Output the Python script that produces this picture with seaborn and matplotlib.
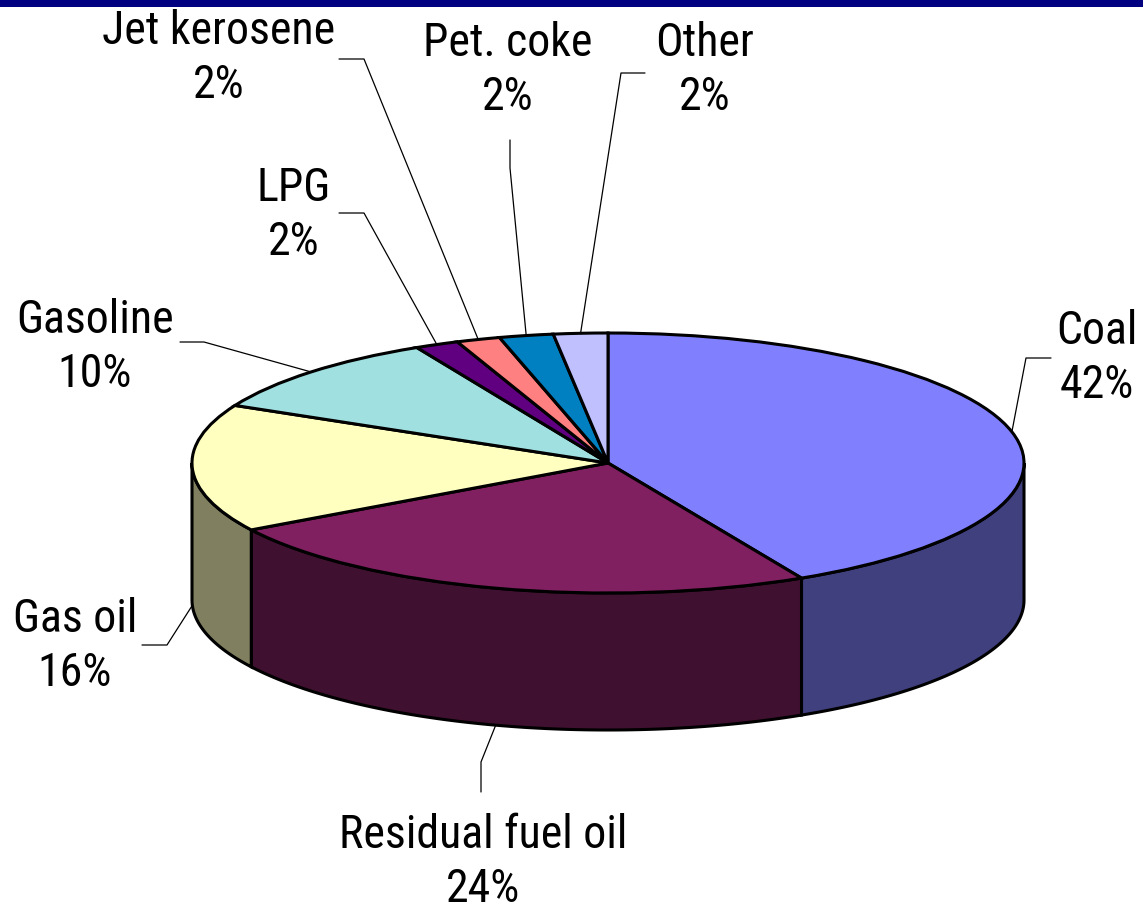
import numpy as np
import matplotlib
matplotlib.use("Agg")
import matplotlib.pyplot as plt
import seaborn as sns
from matplotlib.patches import Rectangle

# --- data (share of fuel use, %) ---
fuels = ["Coal", "Residual fuel oil", "Gas oil", "Gasoline",
         "LPG", "Jet kerosene", "Pet. coke", "Other"]
shares = [42.3, 24.1, 15.9, 10.1, 1.7, 1.7, 2.1, 2.1]
top_colors = ["#8080FF", "#802060", "#FFFFC0", "#A0E0E0",
              "#600080", "#FF8080", "#0080C0", "#C0C0FF"]
side_colors = ["#40407F", "#401030", "#808060", "#507070",
               "#300040", "#804040", "#004060", "#606080"]

# --- layout in pixels (label centre, leader elbow) ---
label_pos = {
    "Coal": (1097, 358), "Residual fuel oil": (483, 862),
    "Gas oil": (75, 646), "Gasoline": (95, 347), "LPG": (294, 215),
    "Jet kerosene": (219, 58), "Pet. coke": (508, 70), "Other": (705, 70),
}
leader_elbow = {
    "Coal": [(1051, 358), (1026, 358)],
    "Residual fuel oil": [(481, 792), (481, 762)],
    "Gas oil": [(142, 645), (167, 645)],
    "Gasoline": [(180, 342), (204, 342)],
    "LPG": [(339, 213), (364, 213)],
    "Jet kerosene": [(339, 59), (364, 59)],
    "Pet. coke": [(510, 140), (510, 168)],
    "Other": [(645, 73), (621, 73)],
}

W, H = 1143, 914
CX, CY, RX, RY, DEPTH = 608, 463, 416, 130, 137


def to_data(px, py):
    # pixel position -> unit-circle data coords of the squashed pie
    return (px - CX) / RX, (CY - py) / RY


sns.set_theme(style="white")
plt.rcParams["font.family"] = ["Roboto Condensed", "Liberation Sans", "DejaVu Sans"]

fig = plt.figure(figsize=(W / 100, H / 100), dpi=100)
ax = fig.add_axes([0, 0, 1, 1])

depth = DEPTH / RY
total = sum(shares)
cum = np.cumsum([0] + shares) / total
starts = 90 - 360 * cum[:-1]
ends = 90 - 360 * cum[1:]

# side walls of the front half
for s, e, c in zip(starts, ends, side_colors):
    lo, hi = max(e, -180), min(s, 0)
    if lo >= hi:
        continue
    t = np.radians(np.linspace(hi, lo, 150))
    xs, ys = np.cos(t), np.sin(t)
    ax.fill(np.r_[xs, xs[::-1]], np.r_[ys, ys[::-1] - depth],
            facecolor=c, edgecolor="black", lw=2.2, zorder=1)

# top face
wedges, _ = ax.pie(shares, colors=top_colors, startangle=90, counterclock=False,
                   wedgeprops=dict(edgecolor="black", linewidth=2.2))
for w in wedges:
    w.set_zorder(2)

ax.set_aspect("auto")
ax.set_xlim(to_data(0, 0)[0], to_data(W, 0)[0])
ax.set_ylim(to_data(0, H)[1], to_data(0, 0)[1])
ax.axis("off")

# labels and leader lines
for name, val, s, e in zip(fuels, shares, starts, ends):
    m = np.radians((s + e) / 2)
    ex, ey = np.cos(m), np.sin(m)
    if ey < 0:
        ey -= depth
    pts = [to_data(*p) for p in leader_elbow[name]] + [(ex, ey)]
    ax.plot([p[0] for p in pts], [p[1] for p in pts], color="black", lw=0.9, zorder=3)
    tx, ty = to_data(*label_pos[name])
    ax.text(tx, ty, f"{name}\n{round(val):.0f}%", ha="center", va="center",
            fontsize=33, linespacing=1.3, color="black")

# dark band along the top edge
fig.add_artist(Rectangle((0, 1 - 7 / H), 1, 7 / H, transform=fig.transFigure,
                         color="#000080", lw=0))

fig.savefig("out.png", dpi=100)
